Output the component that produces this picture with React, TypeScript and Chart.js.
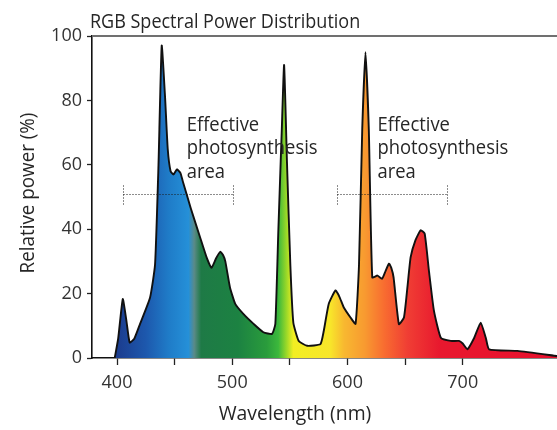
import React, { useEffect, useRef } from "react";
import { Chart, registerables } from "chart.js";

Chart.register(...registerables);

// Spectrum data (wavelength in nm, relative power in %)
const wavelengths = [
  398, 401, 405, 408, 411, 415, 420, 428.7, 433, 436, 438.8, 441.7, 444, 446.5, 449, 452, 455, 457,
  464, 472, 478, 482, 486, 489.6, 492, 494, 498, 502.6, 509.6, 518.5, 527, 534.5, 537.4, 540, 543,
  545, 547.5, 550.4, 553, 557.7, 565, 576.5, 579.4, 583.7, 589.6, 593, 596.8, 602.6, 607, 610,
  612.8, 615.6, 618.5, 621.5, 626, 630, 633, 636, 638, 640, 644.6, 649, 652, 654.8, 659, 663.5,
  667, 670.7, 675, 681, 689.6, 696.8, 700, 704, 710, 715.6, 720, 722.9, 747.5, 782,
];
const power = [
  0, 6, 18.3, 12, 4.8, 6, 10.6, 18.8, 29, 60, 97, 81, 65, 58, 57, 58.6, 57.5, 55,
  46.5, 37.6, 31, 28, 31, 33, 32, 30, 22, 16.8, 13.7, 10.6, 8, 7.5, 10.6, 39.7, 71,
  91, 60.6, 29, 11, 5.3, 3.8, 4.3, 8.4, 16.8, 21, 19, 15.7, 12.6, 10.6, 29,
  71, 95, 71, 25, 25.6, 24.6, 27, 29.3, 28, 25, 10.5, 12.6, 22, 31.3, 36.6, 39.7,
  38.6, 27, 14.7, 6.3, 5.3, 5.3, 4.5, 2.7, 6.3, 11, 6.3, 2.7, 2.2, 0.6,
];

// Axis ticks
const xTicks = [400, 450, 500, 550, 600, 650, 700];
const xLabelTicks = [400, 500, 600, 700];
const yTicks = [0, 20, 40, 60, 80, 100];

// Annotations
const photoRanges = [
  [405.5, 501],
  [591, 686],
];
const photoLevel = 51;
const photoTextStart = [460.5, 626];
const photoTextTop = 70.5;
const photoTextLines = ["Effective", "photosynthesis", "area"];

const chartTitle = "RGB Spectral Power Distribution";
const xTitle = "Wavelength (nm)";
const yTitle = "Relative power (%)";

// Spectrum gradient (style)
const gradStops = [398, 425, 445, 462, 467, 473, 505, 530, 540, 547, 553, 585, 597, 615, 632, 652, 680, 782];
const gradColors = [
  "#1b3a8c", "#1d58ad", "#1f7cc8", "#2590d8", "#5a8a88", "#1e7a46", "#1c8242", "#2a9c3c", "#3cb83c",
  "#9ad828", "#f2ee22", "#f8e62a", "#f8b830", "#f89a30", "#f86c30", "#f03e34", "#e8182e", "#e8102e",
];

const FONT = "'Open Sans', 'Noto Sans', 'DejaVu Sans', sans-serif";
const TEXT_COLOR = "#262626";

function drawCondensed(
  ctx: CanvasRenderingContext2D,
  text: string,
  x: number,
  y: number,
  size: number,
  sx: number,
  align: "left" | "center",
  rotate = 0
) {
  ctx.save();
  ctx.translate(x, y);
  if (rotate) ctx.rotate(rotate);
  ctx.scale(sx, 1);
  ctx.font = `${size}px ${FONT}`;
  ctx.fillStyle = TEXT_COLOR;
  ctx.textAlign = align;
  ctx.textBaseline = "alphabetic";
  ctx.fillText(text, 0, 0);
  ctx.restore();
}

const overlayPlugin = {
  id: "overlay",
  afterDatasetsDraw(chart: any) {
    const { ctx, chartArea, scales } = chart;
    const x = scales.x;
    const y = scales.y;
    ctx.save();
    // top frame line
    ctx.strokeStyle = "#707070";
    ctx.lineWidth = 2;
    ctx.beginPath();
    ctx.moveTo(chartArea.left, chartArea.top);
    ctx.lineTo(chartArea.right, chartArea.top);
    ctx.stroke();

    // dotted ranges
    ctx.strokeStyle = "#1a1a1a";
    ctx.lineWidth = 1;
    ctx.setLineDash([1, 2]);
    const py = Math.round(y.getPixelForValue(photoLevel)) + 0.5;
    photoRanges.forEach(([a, b]) => {
      const xa = Math.round(x.getPixelForValue(a)) + 0.5;
      const xb = Math.round(x.getPixelForValue(b)) + 0.5;
      ctx.beginPath();
      ctx.moveTo(xa, py);
      ctx.lineTo(xb, py);
      ctx.moveTo(xa, py - 9);
      ctx.lineTo(xa, py + 10);
      ctx.moveTo(xb, py - 9);
      ctx.lineTo(xb, py + 10);
      ctx.stroke();
    });
    ctx.setLineDash([]);
    ctx.restore();

    // annotation text
    const top = y.getPixelForValue(photoTextTop);
    photoTextStart.forEach((wl) => {
      const tx = x.getPixelForValue(wl);
      photoTextLines.forEach((line, i) => {
        drawCondensed(ctx, line, tx, top + i * 23.3, 20, 0.92, "left");
      });
    });
  },
  afterDraw(chart: any) {
    const { ctx, chartArea } = chart;
    drawCondensed(ctx, chartTitle, 90, 27.5, 20, 0.9, "left");
    drawCondensed(ctx, xTitle, 295, 420, 20, 0.97, "center");
    drawCondensed(
      ctx,
      yTitle,
      34,
      (chartArea.top + chartArea.bottom) / 2 - 4,
      20,
      0.94,
      "center",
      -Math.PI / 2
    );
  },
};

export default function App() {
  const canvasRef = useRef<HTMLCanvasElement | null>(null);

  useEffect(() => {
    const canvas = canvasRef.current;
    if (!canvas) return;
    const points = wavelengths.map((w, i) => ({ x: w, y: power[i] }));

    const chart = new Chart(canvas, {
      type: "line",
      data: {
        datasets: [
          {
            data: points,
            borderColor: "#111",
            borderWidth: 1.9,
            pointRadius: 0,
            tension: 0.15,
            fill: "origin",
            backgroundColor: (context: any) => {
              const c = context.chart;
              const { chartArea, scales } = c;
              if (!chartArea || !scales.x) return "#888";
              const x0 = scales.x.getPixelForValue(gradStops[0]);
              const x1 = scales.x.getPixelForValue(gradStops[gradStops.length - 1]);
              const g = c.ctx.createLinearGradient(x0, 0, x1, 0);
              const span = gradStops[gradStops.length - 1] - gradStops[0];
              gradStops.forEach((s, i) => {
                g.addColorStop((s - gradStops[0]) / span, gradColors[i]);
              });
              return g;
            },
          },
        ],
      },
      options: {
        animation: false,
        responsive: false,
        maintainAspectRatio: false,
        layout: { padding: { top: 36, left: 0, right: 0, bottom: 0 } },
        plugins: {
          legend: { display: false },
          tooltip: { enabled: false },
          title: { display: false },
        },
        scales: {
          x: {
            type: "linear",
            min: 378.3,
            max: 781.8,
            afterBuildTicks: (scale: any) => {
              scale.ticks = xTicks.map((v) => ({ value: v }));
            },
            afterFit: (scale: any) => {
              scale.height = 72;
            },
            ticks: {
              autoSkip: false,
              maxRotation: 0,
              padding: 7,
              color: "#333",
              font: { family: FONT, size: 18 },
              callback: (v: any) => (xLabelTicks.includes(Number(v)) ? String(v) : ""),
            },
            grid: {
              drawOnChartArea: false,
              drawTicks: true,
              tickLength: 7,
              tickColor: "#222",
              tickWidth: 1.3,
            },
            border: { display: true, color: "#111", width: 1.6 },
          },
          y: {
            min: 0,
            max: 100,
            afterBuildTicks: (scale: any) => {
              scale.ticks = yTicks.map((v) => ({ value: v }));
            },
            afterFit: (scale: any) => {
              scale.width = 92;
            },
            ticks: {
              padding: 5,
              color: "#333",
              font: { family: FONT, size: 18 },
            },
            grid: {
              drawOnChartArea: false,
              drawTicks: true,
              tickLength: 5,
              tickColor: "#222",
              tickWidth: 1.3,
            },
            border: { display: true, color: "#111", width: 1.6 },
          },
        },
      },
      plugins: [overlayPlugin],
    });
    return () => chart.destroy();
  }, []);

  return (
    <div style={{ position: "absolute", left: 0, top: 0, width: 557, height: 430, background: "#fff" }}>
      <canvas ref={canvasRef} width={557} height={430} style={{ display: "block" }} />
    </div>
  );
}
